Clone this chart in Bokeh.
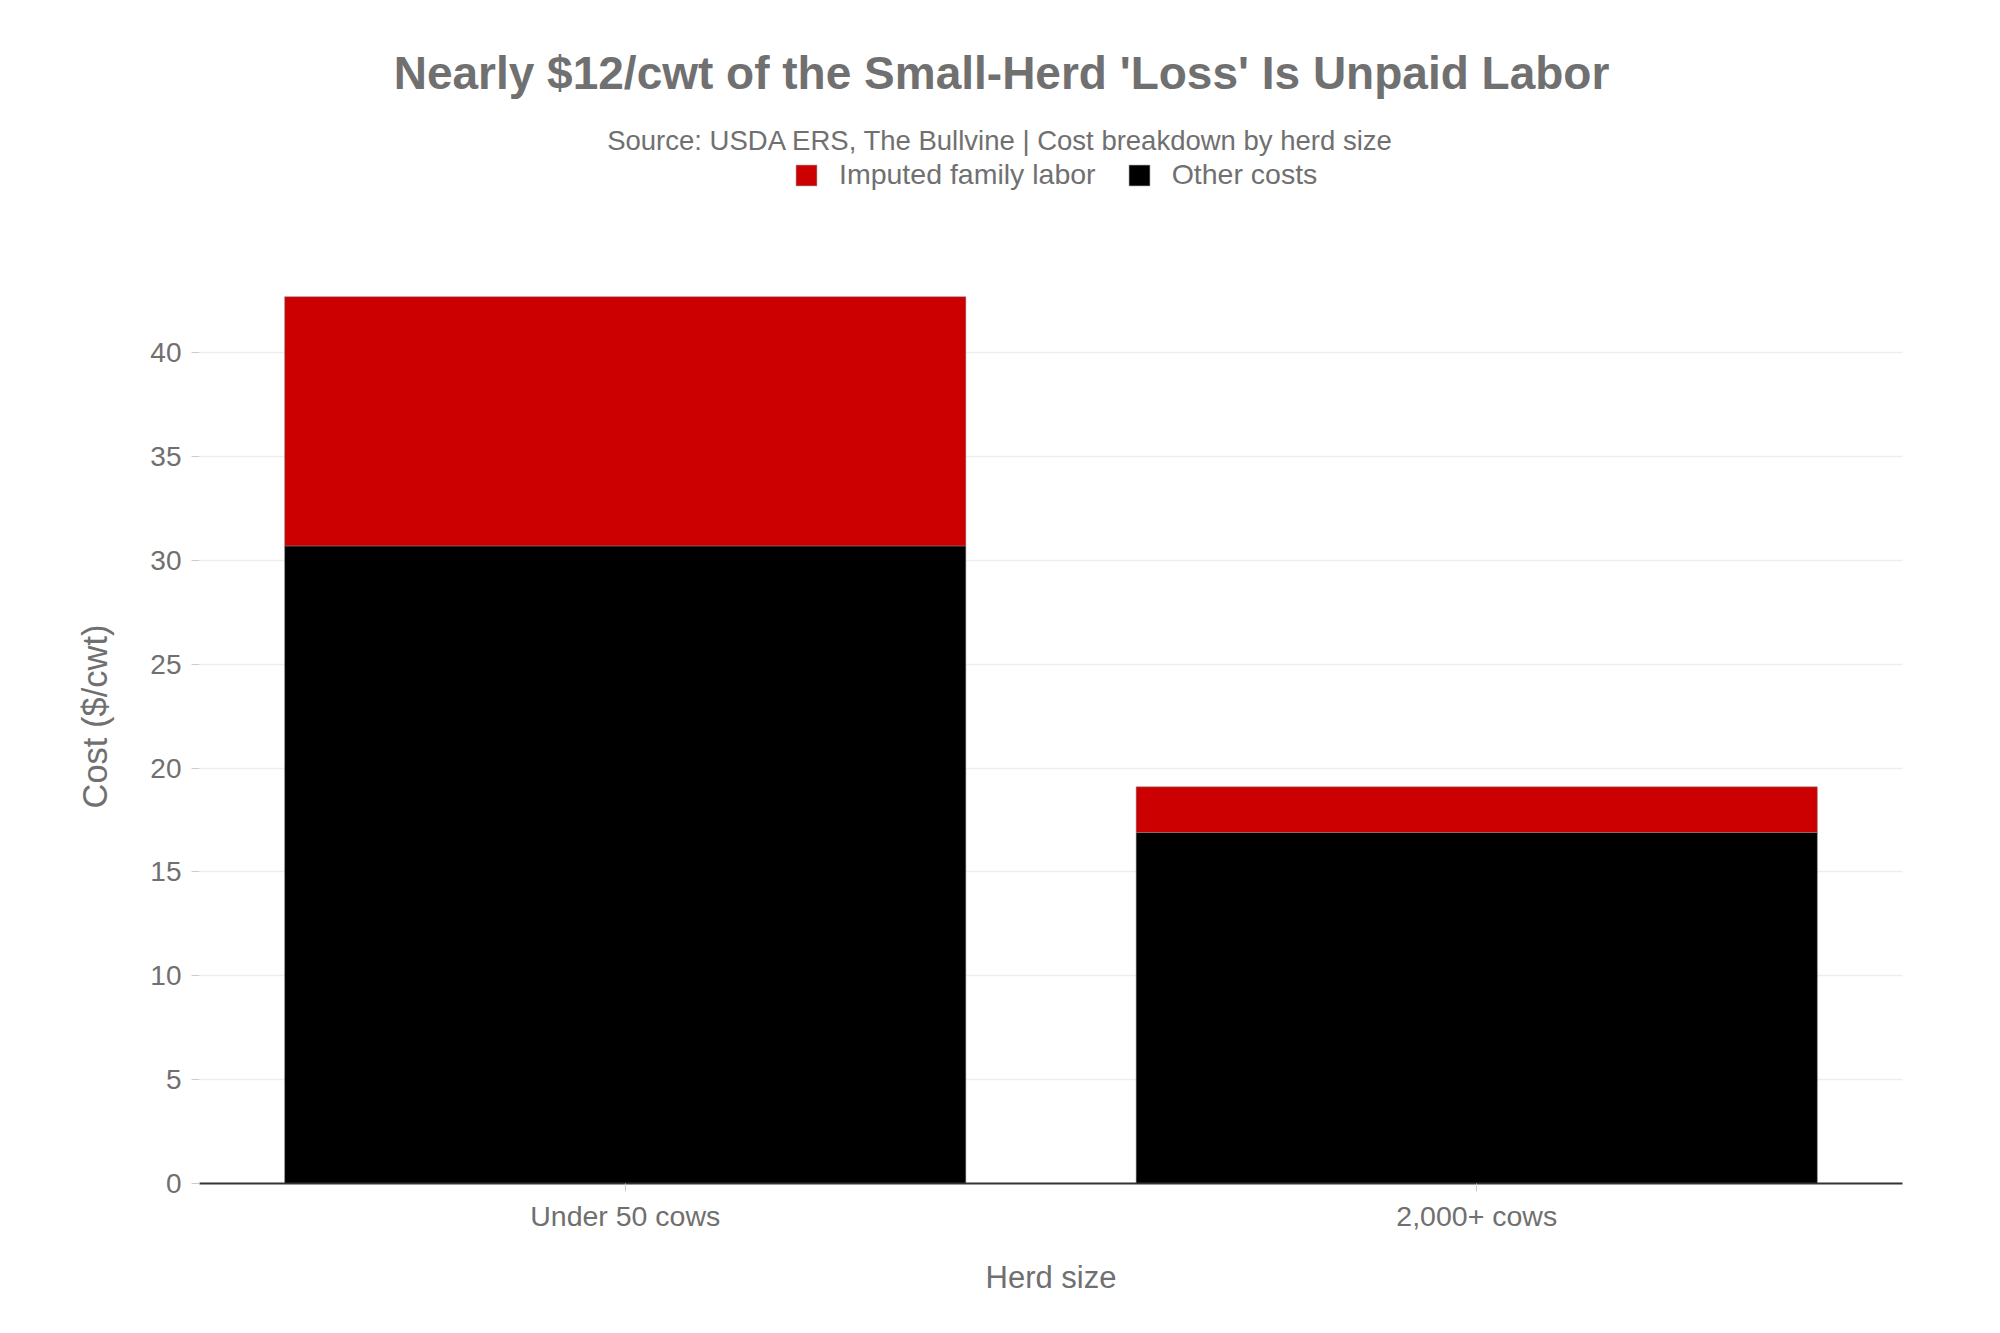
from bokeh.plotting import figure
from bokeh.models import ColumnDataSource, Range1d, FixedTicker, Legend, LegendItem, Title, Label
from bokeh.embed import file_html
from bokeh.resources import INLINE

# ---- data ----
categories = ["Under 50 cows", "2,000+ cows"]
other_costs = [30.7, 16.9]
family_labor = [12.0, 2.2]
y_ticks = [0, 5, 10, 15, 20, 25, 30, 35, 40]

title_text = "Nearly $12/cwt of the Small-Herd 'Loss' Is Unpaid Labor"
subtitle_text = "Source: USDA ERS, The Bullvine | Cost breakdown by herd size"

GREY = "#707070"
FONT = "Liberation Sans"
RED = "#cc0000"
BLACK = "#000000"

src = ColumnDataSource(dict(herd=categories, other=other_costs, labor=family_labor))

W, H = 1984, 1317
FB = 134  # bottom border
p = figure(x_range=categories, y_range=Range1d(0, 56.96), width=W, height=H,
           output_backend="svg", toolbar_location=None,
           min_border_left=199, min_border_right=82, min_border_top=0, min_border_bottom=FB)
p.background_fill_color = "white"
p.border_fill_color = "white"
p.outline_line_color = None

rs = p.vbar_stack(["other", "labor"], x="herd", width=0.8, source=src,
                  fill_color=[BLACK, RED], line_color="#888888", line_alpha=0.5,
                  line_width=1)

# axes
ya = p.yaxis[0]
ya.ticker = FixedTicker(ticks=y_ticks)
ya.axis_line_color = None
ya.major_tick_line_color = "#cccccc"
ya.major_tick_out = 8
ya.major_tick_in = 0
ya.minor_tick_line_color = None
ya.major_label_text_font = FONT
ya.major_label_text_font_size = "28px"
ya.major_label_text_color = GREY
ya.major_label_standoff = 10

xa = p.xaxis[0]
xa.axis_line_color = "#333333"
xa.axis_line_width = 2
xa.major_tick_line_color = "#cccccc"
xa.major_tick_out = 8
xa.major_tick_in = 0
xa.major_label_text_font = FONT
xa.major_label_text_font_size = "28.5px"
xa.major_label_text_color = GREY
xa.major_label_standoff = 8
xa.axis_label = "Herd size"
xa.axis_label_text_font = FONT
xa.axis_label_text_font_size = "31px"
xa.axis_label_text_font_style = "normal"
xa.axis_label_text_color = GREY
xa.axis_label_standoff = 25

p.xgrid.grid_line_color = None
p.ygrid.grid_line_color = "#eeeeee"
p.ygrid.grid_line_width = 1.5

# y axis title as a left-side title (offset from the frame bottom)
p.add_layout(Title(text="Cost ($/cwt)", align="left", offset=375, standoff=67,
                   text_font=FONT, text_font_size="34.5px", text_font_style="normal",
                   text_color=GREY), "left")

# title, subtitle (inside the tall frame, above the data area)
p.add_layout(Label(x=802, y=1111, x_units="screen", y_units="screen", text=title_text,
                   text_align="center", text_baseline="middle", text_font=FONT,
                   text_font_size="46px", text_font_style="bold", text_color=GREY))
p.add_layout(Label(x=801, y=1043, x_units="screen", y_units="screen", text=subtitle_text,
                   text_align="center", text_baseline="middle", text_font=FONT,
                   text_font_size="27.5px", text_color=GREY))

legend = Legend(items=[LegendItem(label="Imputed family labor", renderers=[rs[1]]),
                       LegendItem(label="Other costs", renderers=[rs[0]])],
                orientation="horizontal", location=(594, 992), padding=0, margin=0,
                spacing=30, label_standoff=20, glyph_width=26, glyph_height=26,
                label_text_font=FONT, label_text_font_size="28.5px", label_text_color=GREY,
                border_line_color=None, background_fill_alpha=0)
p.add_layout(legend)

open("out.html", "w").write(file_html(p, INLINE))
